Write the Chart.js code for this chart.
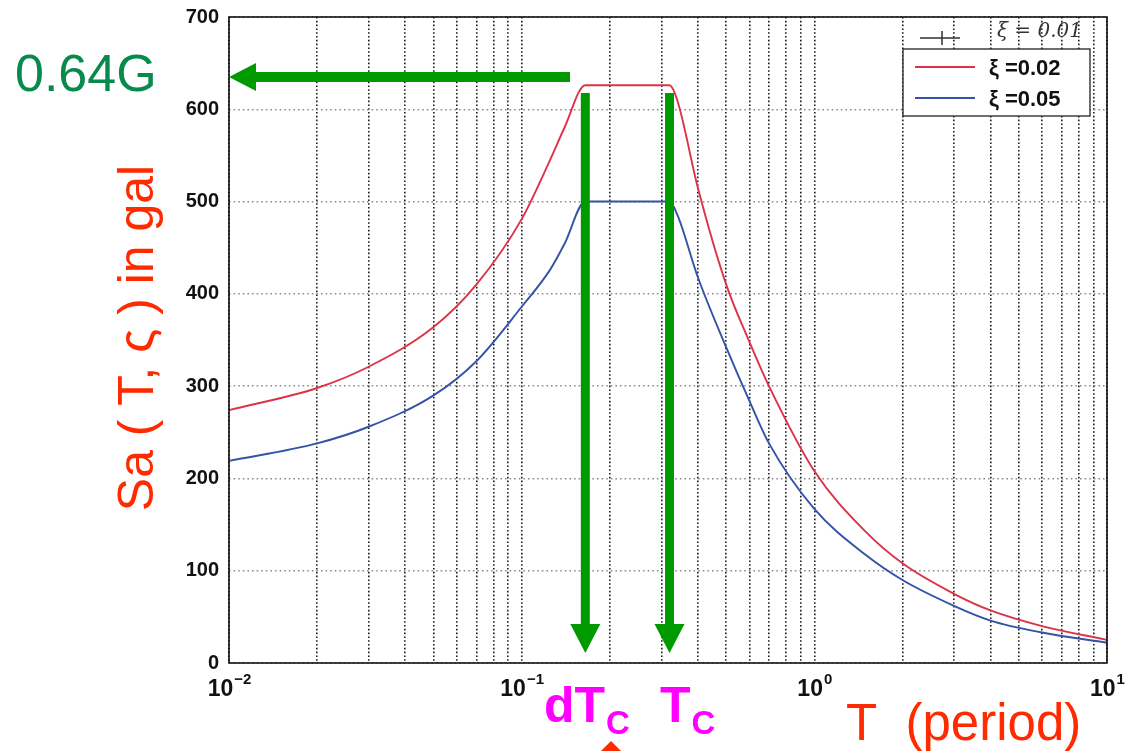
<!DOCTYPE html>
<html>
<head>
<meta charset="utf-8">
<script src="https://cdn.jsdelivr.net/npm/chart.js@4.4.0/dist/chart.umd.min.js"></script>
<style>
  html,body{margin:0;padding:0;background:#fff;overflow:hidden}
  #wrap{position:relative;width:1130px;height:751px}
</style>
</head>
<body>
<div id="wrap"><canvas id="chart" width="1130" height="751"></canvas></div>
<script>
// === DATA ===
const periods = [0.01,0.02,0.03,0.05,0.07,0.1,0.125,0.14,0.165,0.2,0.3,0.32,0.34,0.4,0.5,0.6,0.7,1,1.5,2,3,4,6,10];
const saXi002 = [274,298,321,364,410,481,545,580,626,626,626,626,610,515,410,348,300,208,142,108,75,57,40,25];
const saXi005 = [219,238,256,290,327,386,426,454,500,500,500,500,486,418,342,284,238,167,117,90,62,46,33,22];
const seriesLabels = ['ξ =0.02','ξ =0.05'];
const seriesColors = ['#dc3348','#3452a6'];

const yTicks = [0,100,200,300,400,500,600,700];
const xGrid = [0.01,0.02,0.03,0.04,0.05,0.06,0.07,0.08,0.09,
               0.1,0.2,0.3,0.4,0.5,0.6,0.7,0.8,0.9,
               1,2,3,4,5,6,7,8,9,10];
const decadeTicks = [0.01,0.1,1,10];
const decadeExp = ['−2','−1','0','1'];

// annotations
const markT = [0.165, 0.32];     // dTc, Tc
const markMain = ['dT','T'];
const peakSa = 635;              // 0.64G
const peakLabel = '0.64G';

const GREEN = '#009a00';

// helpers
const pairs = (ys)=> periods.map((t,i)=>({x:t, y:ys[i]}));

function arrowLeft(ctx, x0, x1, y){
  ctx.fillStyle = GREEN;
  ctx.fillRect(x1+24, y-5, x0-(x1+24), 10);
  ctx.beginPath();
  ctx.moveTo(x1, y); ctx.lineTo(x1+27, y-14); ctx.lineTo(x1+27, y+14); ctx.closePath();
  ctx.fill();
}
function arrowDown(ctx, x, y0, y1){
  ctx.fillStyle = GREEN;
  ctx.fillRect(x-4.5, y0, 9, (y1-28)-y0);
  ctx.beginPath();
  ctx.moveTo(x, y1); ctx.lineTo(x-15, y1-29); ctx.lineTo(x+15, y1-29); ctx.closePath();
  ctx.fill();
}

// overlay: frame, decade labels, legend, arrows, text
const overlay = {
  id:'overlay',
  afterDraw(chart){
    const {ctx, chartArea:a, scales:{x, y}} = chart;
    ctx.save();

    // frame
    ctx.setLineDash([]);
    ctx.strokeStyle = '#111'; ctx.lineWidth = 1.6;
    ctx.strokeRect(a.left, a.top, a.right-a.left, a.bottom-a.top);

    // x decade labels with superscripts
    ctx.fillStyle = '#111';
    decadeTicks.forEach((v,i)=>{
      const px = x.getPixelForValue(v);
      ctx.font = 'bold 23px "Liberation Sans", Arial, sans-serif';
      const wb = ctx.measureText('10').width;
      ctx.font = 'bold 15px "Liberation Sans", Arial, sans-serif';
      const we = ctx.measureText(decadeExp[i]).width;
      const left = px - (wb+we)/2;
      ctx.textAlign = 'left'; ctx.textBaseline = 'alphabetic';
      ctx.font = 'bold 23px "Liberation Sans", Arial, sans-serif';
      ctx.fillText('10', left, a.bottom+33);
      ctx.font = 'bold 15px "Liberation Sans", Arial, sans-serif';
      ctx.fillText(decadeExp[i], left+wb+1, a.bottom+21);
    });

    // handwritten note above legend
    const lx = a.right-204, ly = a.top+32;
    ctx.strokeStyle = '#333'; ctx.lineWidth = 1.5;
    ctx.beginPath(); ctx.moveTo(a.right-187, a.top+21); ctx.lineTo(a.right-147, a.top+21);
    ctx.moveTo(a.right-165, a.top+14); ctx.lineTo(a.right-165, a.top+28); ctx.stroke();
    ctx.fillStyle = '#333';
    ctx.font = 'italic 20px "DejaVu Serif", serif';
    ctx.textAlign = 'left'; ctx.textBaseline = 'middle';
    ctx.fillText('ξ = 0.01', a.right-110, a.top+15);

    // legend box
    ctx.fillStyle = '#fff';
    ctx.fillRect(lx, ly, 187, 67);
    ctx.strokeStyle = '#222'; ctx.lineWidth = 1.3;
    ctx.strokeRect(lx, ly, 187, 67);
    seriesLabels.forEach((lab,i)=>{
      const yy = ly + 18 + i*31;
      ctx.strokeStyle = seriesColors[i]; ctx.lineWidth = 2;
      ctx.beginPath(); ctx.moveTo(lx+12, yy); ctx.lineTo(lx+72, yy); ctx.stroke();
      ctx.fillStyle = '#111';
      ctx.font = 'bold 22px "Liberation Sans", Arial, sans-serif';
      ctx.textBaseline = 'middle';
      ctx.fillText(lab, lx+86, yy+2);
    });

    // green arrows
    const peakY = y.getPixelForValue(peakSa);
    arrowLeft(ctx, 570, a.left, peakY);
    markT.forEach(t=>{
      const px = x.getPixelForValue(t);
      arrowDown(ctx, px, peakY+16, a.bottom-10);
    });

    // 0.64G
    ctx.fillStyle = '#078a4c';
    ctx.font = '52px "Liberation Sans", Arial, sans-serif';
    ctx.textAlign = 'left'; ctx.textBaseline = 'alphabetic';
    ctx.fillText(peakLabel, 15, 91);

    // dTc / Tc
    ctx.fillStyle = '#ff00ff';
    const subs = [[544, 722], [660, 722]];
    markMain.forEach((m,i)=>{
      ctx.font = 'bold 50px "Liberation Sans", Arial, sans-serif';
      const w = ctx.measureText(m).width;
      ctx.fillText(m, subs[i][0], subs[i][1]);
      ctx.font = 'bold 33px "Liberation Sans", Arial, sans-serif';
      ctx.fillText('C', subs[i][0]+w+1, subs[i][1]+12);
    });

    // T (period)
    ctx.fillStyle = '#ff2a00';
    ctx.font = '51px "Liberation Sans", Arial, sans-serif';
    ctx.fillText('T  (period)', 846, 740);

    // y title
    ctx.save();
    ctx.translate(153, 338);
    ctx.rotate(-Math.PI/2);
    ctx.textAlign = 'center';
    ctx.font = '50px "Liberation Sans", Arial, sans-serif';
    ctx.fillText('Sa ( T, ς ) in gal', 0, 0);
    ctx.restore();

    // small red arrow head at the bottom edge
    ctx.fillStyle = '#ff2a00';
    ctx.beginPath(); ctx.moveTo(611, 741); ctx.lineTo(600, 752); ctx.lineTo(622, 752); ctx.closePath(); ctx.fill();

    ctx.restore();
  }
};

new Chart(document.getElementById('chart'), {
  type:'line',
  data:{
    datasets: [saXi002, saXi005].map((ys,i)=>({
      label: seriesLabels[i],
      data: pairs(ys),
      borderColor: seriesColors[i],
      borderWidth: 1.9,
      pointRadius: 0,
      fill: false,
      cubicInterpolationMode: 'monotone'
    }))
  },
  options:{
    responsive:false,
    animation:false,
    devicePixelRatio:1,
    layout:{ autoPadding:false, padding:{ left:0, right:23, top:16, bottom:0 } },
    plugins:{ legend:{ display:false }, tooltip:{ enabled:false } },
    scales:{
      x:{
        type:'logarithmic', min:0.01, max:10,
        afterBuildTicks: s => { s.ticks = xGrid.map(v=>({value:v})); },
        afterFit: s => { s.height = 88; },
        ticks:{ autoSkip:false, maxRotation:0, callback:()=>'' },
        grid:{ color:'#1e1e1e', lineWidth:1.6, borderDash:[1.6,2.2], drawTicks:false },
        border:{ display:false, dash:[1.6,2.2] }
      },
      y:{
        min:0, max:700,
        afterBuildTicks: s => { s.ticks = yTicks.map(v=>({value:v})); },
        afterFit: s => { s.width = 229; },
        ticks:{ padding:10, color:'#111', font:{ family:'"Liberation Sans", Arial, sans-serif', weight:'bold', size:20, lineHeight:0.7 } },
        grid:{ color:'#8a8a8a', lineWidth:1.4, borderDash:[1.6,3], drawTicks:false },
        border:{ display:false, dash:[1.6,3] }
      }
    }
  },
  plugins:[overlay]
});
</script>
</body>
</html>
